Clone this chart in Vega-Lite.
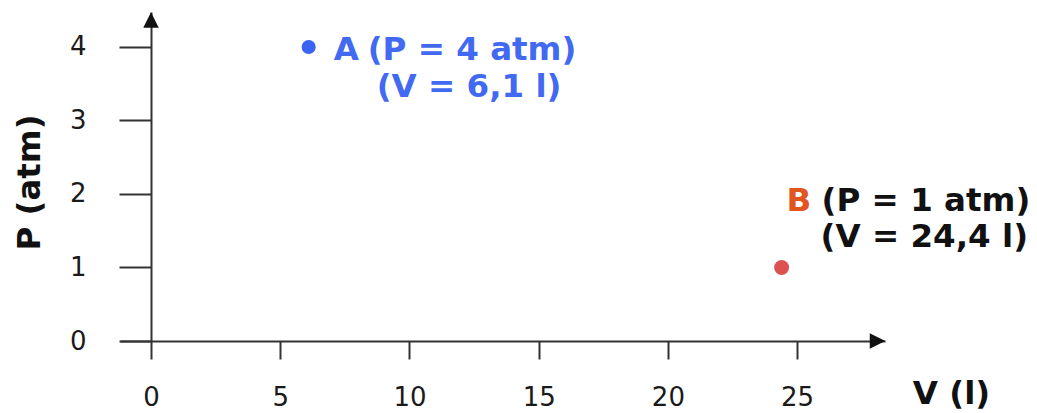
{
  "$schema": "https://vega.github.io/schema/vega-lite/v6.json",
  "width": 765,
  "height": 329,
  "autosize": {"type": "none"},
  "padding": {"left": 120, "top": 12, "right": 152, "bottom": 72},
  "background": "white",
  "config": {
    "view": {"stroke": null},
    "font": "DejaVu Sans",
    "text": {"font": "DejaVu Sans", "fontSize": 32.5, "fontWeight": "bold", "baseline": "alphabetic", "align": "left"}
  },
  "datasets": {
    "stati": [
      {"stato": "A", "V": 6.1, "P": 4, "pressione": "(P = 4 atm)", "volume": "(V = 6,1 l)"},
      {"stato": "B", "V": 24.4, "P": 1, "pressione": "(P = 1 atm)", "volume": "(V = 24,4 l)"}
    ],
    "frecce": [
      {"asse": "P", "V": 0, "P": 4.367},
      {"asse": "V", "V": 28.11, "P": 0}
    ]
  },
  "layer": [
    {
      "data": {"name": "stati"},
      "mark": {"type": "circle", "opacity": 1},
      "encoding": {
        "x": {
          "field": "V", "type": "quantitative",
          "scale": {"domain": [-1.2, 28.4], "nice": false, "zero": false},
          "axis": {
            "values": [0, 5, 10, 15, 20, 25],
            "format": "d",
            "grid": false,
            "domainColor": "#333333", "domainWidth": 2,
            "tickColor": "#333333", "tickWidth": 2, "tickSize": 18,
            "labelFont": "DejaVu Sans", "labelFontSize": 26, "labelColor": "#1a1a1a",
            "labelPadding": 46, "labelBaseline": "alphabetic", "labelFlush": false, "labelOverlap": false,
            "title": "V (l)",
            "titleFont": "DejaVu Sans", "titleFontSize": 32.5, "titleFontWeight": "bold", "titleColor": "#111111",
            "titleX": 831, "titleY": 62, "titleAlign": "center", "titleBaseline": "alphabetic"
          }
        },
        "y": {
          "field": "P", "type": "quantitative",
          "scale": {"domain": [0, 4.476], "nice": false, "zero": false},
          "axis": {
            "values": [0, 1, 2, 3, 4],
            "format": "d",
            "offset": -31,
            "grid": false,
            "domainColor": "#333333", "domainWidth": 2,
            "tickColor": "#333333", "tickWidth": 2, "tickSize": 32,
            "labelFont": "DejaVu Sans", "labelFontSize": 26, "labelColor": "#1a1a1a",
            "labelPadding": 33, "labelFlush": false, "labelOverlap": false,
            "title": "P (atm)",
            "titleFont": "DejaVu Sans", "titleFontSize": 32.5, "titleFontWeight": "bold", "titleColor": "#111111",
            "titleAngle": -90, "titleX": -112, "titleY": 170, "titleAlign": "center", "titleBaseline": "alphabetic"
          }
        },
        "color": {
          "field": "stato", "type": "nominal",
          "scale": {"domain": ["A", "B"], "range": ["#3b64f5", "#dc5252"]},
          "legend": null
        },
        "size": {
          "field": "stato", "type": "nominal",
          "scale": {"domain": ["A", "B"], "range": [200, 225]},
          "legend": null
        }
      }
    },
    {
      "data": {"name": "frecce"},
      "mark": {"type": "point", "filled": true, "opacity": 1, "color": "#111111", "size": 240},
      "encoding": {
        "x": {"field": "V", "type": "quantitative"},
        "y": {"field": "P", "type": "quantitative"},
        "shape": {
          "field": "asse", "type": "nominal",
          "scale": {"domain": ["P", "V"], "range": ["M0,-1L-1,1L1,1Z", "M1,0L-1,-1L-1,1Z"]},
          "legend": null
        }
      }
    },
    {
      "data": {"name": "stati"},
      "transform": [{"filter": "datum.stato == 'A'"}],
      "layer": [
        {
          "mark": {"type": "text", "color": "#4169f2", "dx": 25, "dy": 13},
          "encoding": {"text": {"field": "stato"}}
        },
        {
          "mark": {"type": "text", "color": "#4169f2", "dx": 59, "dy": 13},
          "encoding": {"text": {"field": "pressione"}}
        },
        {
          "mark": {"type": "text", "color": "#4169f2", "dx": 68, "dy": 50},
          "encoding": {"text": {"field": "volume"}}
        }
      ],
      "encoding": {
        "x": {"field": "V", "type": "quantitative"},
        "y": {"field": "P", "type": "quantitative"}
      }
    },
    {
      "data": {"name": "stati"},
      "transform": [{"filter": "datum.stato == 'B'"}],
      "layer": [
        {
          "mark": {"type": "text", "color": "#e0561e", "dx": 5, "dy": -56},
          "encoding": {"text": {"field": "stato"}}
        },
        {
          "mark": {"type": "text", "color": "#111111", "dx": 40, "dy": -56},
          "encoding": {"text": {"field": "pressione"}}
        },
        {
          "mark": {"type": "text", "color": "#111111", "dx": 39, "dy": -20},
          "encoding": {"text": {"field": "volume"}}
        }
      ],
      "encoding": {
        "x": {"field": "V", "type": "quantitative"},
        "y": {"field": "P", "type": "quantitative"}
      }
    }
  ]
}
